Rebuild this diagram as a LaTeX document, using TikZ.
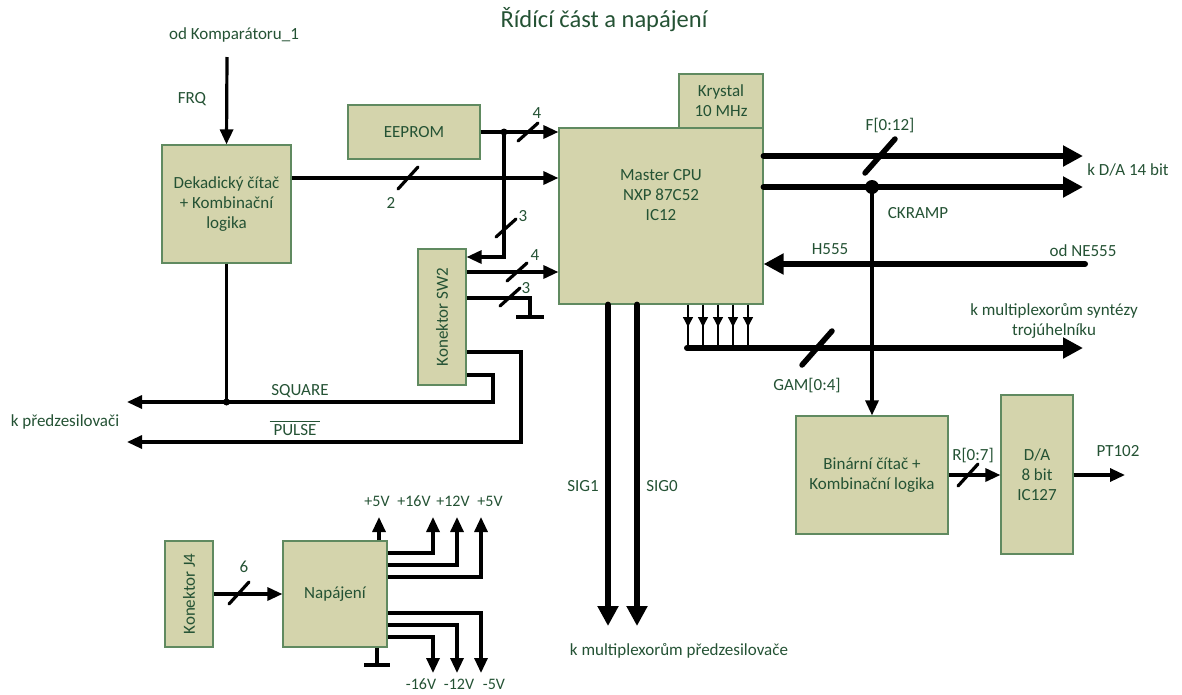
\documentclass[tikz,border=0pt]{standalone}
\usepackage{fontspec}
\setmainfont{Carlito}
\usepackage{graphicx,amsmath}
\definecolor{boxfill}{RGB}{212,212,172}
\definecolor{boxline}{RGB}{96,138,96}
\definecolor{txtgreen}{RGB}{36,82,52}
\usetikzlibrary{arrows.meta,calc}

\begin{document}
\begin{tikzpicture}[
  x=1pt, y=-1pt,
  every node/.style={font=\fontsize{17}{20}\selectfont, text=txtgreen},
  block/.style={draw=boxline, fill=boxfill, line width=1.2pt, inner sep=0pt, align=center},
  lbl/.style={inner sep=0pt, align=center},
  volt/.style={inner sep=0pt, font=\fontsize{16}{18}\selectfont},
  plain/.style={line width=3.2pt},
  wire/.style={line width=3.2pt, -{Triangle[length=15pt,width=13pt]}},
  bus/.style={line width=6pt, line cap=round, -{Triangle[length=20pt,width=20pt]}},
  thinarr/.style={line width=1.3pt, -{Triangle[length=10pt,width=10pt]}},
  slash/.style={line width=3.2pt, line cap=round},
  bigslash/.style={line width=5.5pt, line cap=round},
]
  \useasboundingbox (0,0) rectangle (1182,694);

  % title
  \node[lbl, font=\fontsize{24.5}{28}\selectfont] (title) at (604,20) {Řídící část a napájení};

  % blocks
  \node[block, minimum width=129, minimum height=118] (dek) at (226.5,204) {Dekadický čítač\\+ Kombinační\\logika};
  \node[block, minimum width=132, minimum height=54] (eeprom) at (414,132) {EEPROM};
  \node[block, minimum width=84, minimum height=54] (krystal) at (721,101) {Krystal\\10 MHz};
  \node[block, minimum width=204, minimum height=176] (cpu) at (661,216) {};
  \node[lbl] (cputext) at (661,195) {Master CPU\\NXP 87C52\\IC12};
  \node[block, minimum width=48, minimum height=136] (sw) at (442,317) {\rotatebox{90}{Konektor SW2}};
  \node[block, minimum width=152, minimum height=118] (bin) at (872,475) {Binární čítač +\\Kombinační logika};
  \node[block, minimum width=72, minimum height=159] (dac) at (1037,474.5) {D/A\\8 bit\\IC127};
  \node[block, minimum width=48, minimum height=106] (jfour) at (189,594) {\rotatebox{90}{Konektor J4}};
  \node[block, minimum width=104, minimum height=106] (nap) at (335,594) {Napájení};

  % FRQ input
  \coordinate (frqin) at (227,57);
  \node[lbl] (odkomp) at (234,35) {od Komparátoru\_1};
  \node[lbl] (frq) at (192,99) {FRQ};
  \draw[wire] (frqin) -- (dek.north);

  % EEPROM and SW2 -> CPU
  \coordinate (jee) at (504,132);
  \draw[wire] (eeprom.east) -- (cpu.west |- eeprom.east);
  \fill (jee) circle (3.5);
  \draw[slash] (528,132) +(-10,9) -- +(10,-9);
  \node[lbl] (n4a) at (537,113) {4};
  \draw[wire] (jee) |- (sw.east |- 0,257);
  \draw[slash] (506,228) +(-10,9) -- +(10,-9);
  \node[lbl] (n3a) at (523,216) {3};

  \draw[wire] (dek.east |- 0,178) -- (cpu.west |- 0,178);
  \draw[slash] (408,178) +(-10,11) -- +(10,-11);
  \node[lbl] (n2) at (391,203) {2};

  \draw[wire] (sw.east |- 0,272) -- (cpu.west |- 0,272);
  \draw[slash] (517,272) +(-10,9) -- +(10,-9);
  \node[lbl] (n4b) at (535,255) {4};

  \coordinate (gnd1) at (530,317);
  \draw[plain] (sw.east |- 0,298) -| (gnd1);
  \draw[plain] ($(gnd1)+(-14,0)$) -- ++(28,0);
  \draw[slash] (510,297) +(-10,9) -- +(10,-9);
  \node[lbl] (n3b) at (526,288) {3};

  % SW2 -> k predzesilovaci
  \coordinate (sqout) at (127,402);
  \coordinate (puout) at (127,442);
  \draw[wire] (sw.east |- 0,375) -- (493,375) -- (493,402) -- (sqout);
  \draw[wire] (sw.east |- 0,352) -- (521,352) -- (521,442) -- (puout);
  \draw[plain] (dek.south) -- (dek.south |- sqout);
  \fill (dek.south |- sqout) circle (3.5);
  \node[lbl] (square) at (300,391) {SQUARE};
  \node[lbl] (pulse) at (295,428) {$\overline{\mbox{\hspace{4pt}PULSE\hspace{4pt}}}$};
  \node[lbl] (kpredz) at (65,422) {k předzesilovači};

  % CPU outputs right
  \coordinate (fout) at (1083,156);
  \coordinate (ckout) at (1083,187);
  \coordinate (jck) at (872,187);
  \draw[bus] (cpu.east |- fout) -- (fout);
  \draw[bus] (cpu.east |- ckout) -- (ckout);
  \draw[bigslash] (880,156) +(-15,17) -- +(15,-17);
  \fill (jck) circle (7);
  \node[lbl] (fbus) at (890,126) {F[0:12]};
  \node[lbl] (kda14) at (1128,170) {k D/A 14 bit};
  \node[lbl] (ckramp) at (918,213) {CKRAMP};

  % H555
  \coordinate (hin) at (1085,264);
  \draw[bus] (hin) -- (cpu.east |- hin);
  \node[lbl] (h555) at (830,249) {H555};
  \node[lbl] (ne555) at (1083,251) {od NE555};

  % GAM bus
  \foreach \gx in {688,703,718,733,748} {
    \draw[line width=1.3pt] (\gx,0 |- cpu.south) -- (\gx,348);
    \draw[thinarr] (\gx,0 |- cpu.south) -- (\gx,327);
  }
  \coordinate (gamin) at (687,348);
  \coordinate (gamout) at (1083,348);
  \draw[bus] (gamin) -- (gamout);
  \draw[bigslash] (817,348) +(-15,17) -- +(15,-17);
  \node[lbl] (gam) at (807,386) {GAM[0:4]};
  \node[lbl] (ksynt) at (1054,321) {k multiplexorům syntézy\\trojúhelníku};

  % CKRAMP -> binarni citac
  \draw[wire] (jck) -- (bin.north);

  % SIG outputs
  \coordinate (sig1) at (608,626);
  \coordinate (sig0) at (637,626);
  \draw[bus] (cpu.south -| sig1) -- (sig1);
  \draw[bus] (cpu.south -| sig0) -- (sig0);
  \node[lbl] (sig1l) at (583,486) {SIG1};
  \node[lbl] (sig0l) at (662,486) {SIG0};
  \node[lbl] (kmux) at (679,651) {k multiplexorům předzesilovače};

  % D/A
  \coordinate (ptout) at (1125,475);
  \draw[wire] (bin.east) -- (dac.west |- bin.east);
  \draw[slash] (968,475) +(-10,11) -- +(10,-11);
  \node[lbl] (rbus) at (973,456) {R[0:7]};
  \draw[wire] (dac.east |- ptout) -- (ptout);
  \node[lbl] (pt102) at (1118,451) {PT102};

  % power supply
  \draw[wire] (jfour.east) -- (nap.west);
  \draw[slash] (239,593) +(-10,11) -- +(10,-11);
  \node[lbl] (n6) at (244,567) {6};
  \draw[wire] (379,0 |- nap.north) -- (379,517);
  \foreach \py/\px in {553/433, 565/457, 577/481}
    \draw[wire] (nap.east |- 0,\py) -| (\px,517);
  \foreach \py/\px in {613/481, 625/457, 637/433}
    \draw[wire] (nap.east |- 0,\py) -| (\px,673);
  \coordinate (gnd2) at (377,665);
  \draw[plain] (nap.south -| gnd2) -- (gnd2);
  \draw[plain] ($(gnd2)+(-13,0)$) -- ++(26,0);
  \node[volt] (p5a) at (377,501) {+5V};
  \node[volt] (p16) at (414,501) {+16V};
  \node[volt] (p12) at (453,501) {+12V};
  \node[volt] (p5b) at (490,501) {+5V};
  \node[volt] (m16) at (421,684) {-16V};
  \node[volt] (m12) at (459,684) {-12V};
  \node[volt] (m5) at (494,684) {-5V};
\end{tikzpicture}
\end{document}
